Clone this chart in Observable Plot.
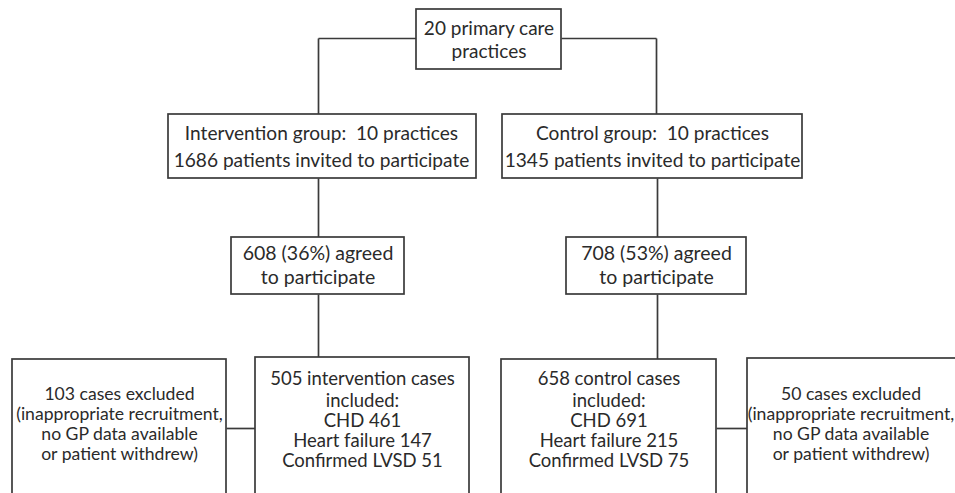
<!DOCTYPE html>
<html>
<head>
<meta charset="utf-8">
<script src="https://cdn.jsdelivr.net/npm/d3@7"></script>
<script src="https://cdn.jsdelivr.net/npm/@observablehq/plot@0.6"></script>
<style>
  html, body { margin: 0; padding: 0; background: #fff; }
</style>
</head>
<body>
<div id="chart"></div>
<script>
// ---- Data ----
const totalPractices = 20;
const groupNames = ["Intervention", "Control"];
const groupPractices = [10, 10];
const invited = [1686, 1345];
const agreed = [608, 708];
const agreedPct = [36, 53];
const included = [505, 658];
const chd = [461, 691];
const heartFailure = [147, 215];
const confirmedLVSD = [51, 75];
const excluded = [103, 50];

// ---- Layout (diagram geometry, pixel units) ----
const W = 955, H = 493;
const boxes = [
  {id: "top",   x1: 416, x2: 561, y1: 9,   y2: 69},
  {id: "grpI",  x1: 168, x2: 476, y1: 114, y2: 178},
  {id: "grpC",  x1: 502, x2: 802, y1: 114, y2: 178},
  {id: "agrI",  x1: 231, x2: 404, y1: 237, y2: 294},
  {id: "agrC",  x1: 566, x2: 746, y1: 237, y2: 294},
  {id: "excI",  x1: 12,  x2: 226, y1: 359, y2: 520},
  {id: "incI",  x1: 255, x2: 469, y1: 357, y2: 520},
  {id: "incC",  x1: 501, x2: 716, y1: 359, y2: 520},
  {id: "excC",  x1: 747, x2: 975, y1: 358, y2: 520}
];
const connectors = [
  {x1: 318, y1: 38, x2: 416, y2: 38},
  {x1: 561, y1: 38, x2: 656, y2: 38},
  {x1: 318, y1: 38, x2: 318, y2: 114},
  {x1: 656, y1: 38, x2: 656, y2: 114},
  {x1: 318, y1: 178, x2: 318, y2: 237},
  {x1: 657, y1: 178, x2: 657, y2: 237},
  {x1: 318, y1: 294, x2: 318, y2: 357},
  {x1: 657, y1: 294, x2: 657, y2: 359},
  {x1: 226, y1: 428, x2: 255, y2: 428},
  {x1: 716, y1: 428, x2: 747, y2: 428}
];

// ---- Text lines built from the data ----
const labels = [];
function addLines(cx, ys, size, lines) {
  lines.forEach((t, i) => labels.push({x: cx, y: ys[i], size, text: t}));
}
addLines(488.5, [28, 51], 19, [`${totalPractices} primary care`, "practices"]);
[321, 652].forEach((cx, i) => addLines(cx, [133, 160], 19.1, [
  `${groupNames[i]} group:  ${groupPractices[i]} practices`,
  `${invited[i]} patients invited to participate`
]));
[317.5, 656].forEach((cx, i) => addLines(cx, [253, 277], 19.5, [
  `${agreed[i]} (${agreedPct[i]}%) agreed`,
  "to participate"
]));
const incWord = ["intervention", "control"];
[362, 608.5].forEach((cx, i) => addLines(cx, [379, 401, 421, 441, 461], 18.5, [
  `${included[i]} ${incWord[i]} cases`,
  "included:",
  `CHD ${chd[i]}`,
  `Heart failure ${heartFailure[i]}`,
  `Confirmed LVSD ${confirmedLVSD[i]}`
]));
[119, 850.5].forEach((cx, i) => addLines(cx, [394, 414, 434, 454], 17.6, [
  `${excluded[i]} cases excluded`,
  "(inappropriate recruitment,",
  "no GP data available",
  "or patient withdrew)"
]));

const ink = "#3a3a3a";
const sizes = [...new Set(labels.map(d => d.size))];
const chart = Plot.plot({
  width: W,
  height: H,
  margin: 0,
  x: {domain: [0, W], range: [0, W], axis: null},
  y: {domain: [0, H], range: [0, H], axis: null},
  style: {background: "#fff", fontFamily: "Lato, 'Open Sans', sans-serif"},
  marks: [
    Plot.link(connectors, {x1: "x1", y1: "y1", x2: "x2", y2: "y2", stroke: ink, strokeWidth: 1.7}),
    Plot.rect(boxes, {x1: "x1", x2: "x2", y1: "y1", y2: "y2", fill: "white", stroke: ink, strokeWidth: 1.7}),
    ...sizes.map(s => Plot.text(labels.filter(d => d.size === s), {
      x: "x", y: "y", text: "text", fontSize: s, fill: "#2a2a2a",
      textAnchor: "middle", lineAnchor: "middle"
    }))
  ]
});
document.getElementById("chart").appendChild(chart);
</script>
</body>
</html>
